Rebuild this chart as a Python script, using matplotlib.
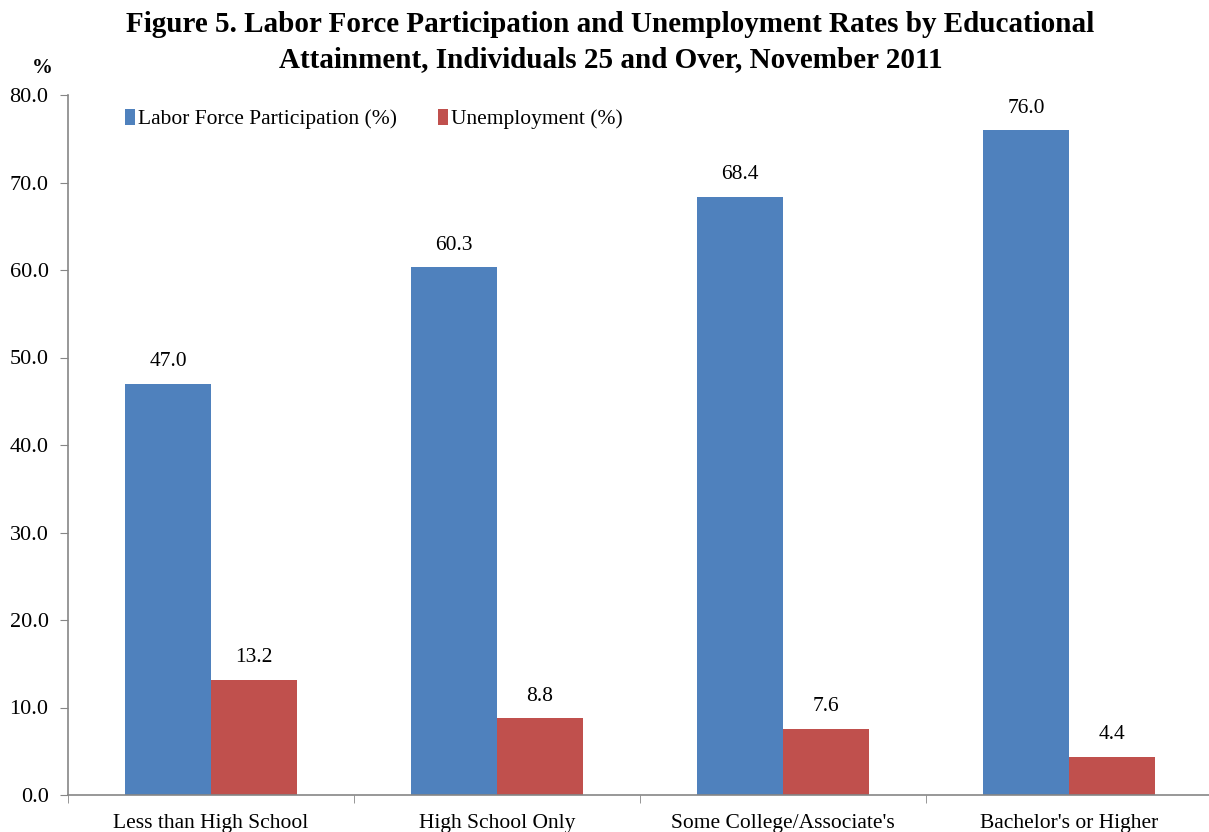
import matplotlib
matplotlib.use("Agg")
import matplotlib.pyplot as plt
import numpy as np

categories = ["Less than High School", "High School Only",
              "Some College/Associate's", "Bachelor's or Higher"]
participation = [47.0, 60.3, 68.4, 76.0]
unemployment = [13.2, 8.8, 7.6, 4.4]
series_names = ["Labor Force Participation (%)", "Unemployment (%)"]
y_ticks = [0, 10, 20, 30, 40, 50, 60, 70, 80]

BLUE = "#4F81BD"
RED = "#C0504D"
AXIS = "#868686"

plt.rcParams["font.family"] = ["Liberation Serif", "DejaVu Serif"]

fig = plt.figure(figsize=(12.09, 8.32), dpi=100)
W, H = 1209, 832
ax = fig.add_axes([68 / W, 37 / H, (1212 - 68) / W, (795 - 95) / H])

x = np.arange(len(categories))
bw = 0.3
b1 = ax.bar(x - bw / 2, participation, bw, color=BLUE, label=series_names[0])
b2 = ax.bar(x + bw / 2, unemployment, bw, color=RED, label=series_names[1])

for bars, vals in ((b1, participation), (b2, unemployment)):
    for rect, v in zip(bars, vals):
        ax.text(rect.get_x() + rect.get_width() / 2, v + 1.4, f"{v:.1f}",
                ha="center", va="bottom", fontsize=15.5)

ax.set_xlim(-0.5, len(categories) - 0.5)
ax.set_ylim(0, 80)
ax.set_yticks(y_ticks)
ax.set_yticklabels([f"{t:.1f}" for t in y_ticks], fontsize=16)
ax.set_xticks(x)
ax.set_xticklabels(categories, fontsize=15.5)
ax.tick_params(axis="x", which="major", length=0, pad=14)
ax.set_xticks(np.arange(-0.5, len(categories)), minor=True)
ax.tick_params(axis="x", which="minor", length=6, color=AXIS, direction="out")
ax.tick_params(axis="y", length=6, color=AXIS, direction="out", pad=8)

for side in ("top", "right"):
    ax.spines[side].set_visible(False)
for side in ("left", "bottom"):
    ax.spines[side].set_color(AXIS)
    ax.spines[side].set_linewidth(1.2)

leg = ax.legend(loc="upper left", bbox_to_anchor=(0.033, 1.008), ncol=2,
                frameon=False, fontsize=15.5, handlelength=0.45, handleheight=0.75,
                handletextpad=0.15, columnspacing=1.9)

fig.text(0.505, 0.987, "Figure 5. Labor Force Participation and Unemployment Rates by Educational\n"
         "Attainment, Individuals 25 and Over, November 2011",
         ha="center", va="top", fontsize=21, fontweight="bold", linespacing=1.4)
fig.text(42 / W, 1 - 68 / H, "%", ha="center", va="center", fontsize=15, fontweight="bold")

fig.savefig("out.png", dpi=100)
